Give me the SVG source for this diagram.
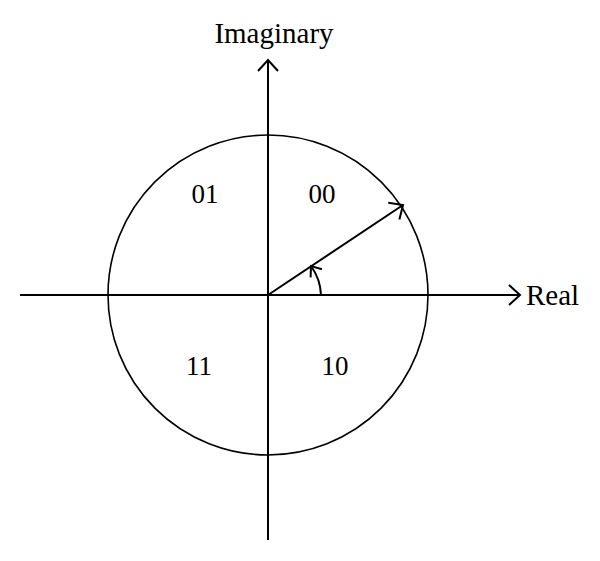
<svg xmlns="http://www.w3.org/2000/svg" width="600" height="561" viewBox="0 0 600 561">
<style>
.ln{stroke:#000;stroke-width:2;fill:none}
.cl{stroke:#000;stroke-width:1.6;fill:none}
.t{font-family:"Liberation Serif","Times New Roman",serif;fill:#000}
.ax{font-size:29px}
.q{font-size:27px;text-anchor:middle}
</style>
<defs>
<marker id="ah" markerUnits="userSpaceOnUse" markerWidth="30" markerHeight="30" viewBox="-15 -15 30 30" refX="0" refY="0" orient="auto">
<path d="M-11,-10 L0,0 L-11,10" fill="none" stroke="#000" stroke-width="2"/>
</marker>
<marker id="ahs" markerUnits="userSpaceOnUse" markerWidth="30" markerHeight="30" viewBox="-15 -15 30 30" refX="0" refY="0" orient="auto">
<path d="M-9,-7 L0,0 L-9,7" fill="none" stroke="#000" stroke-width="2"/>
</marker>
</defs>
<g id="circle"><circle class="cl" cx="268" cy="295" r="160"/></g>
<g id="connectors">
<line class="ln" x1="20" y1="295" x2="520" y2="295" marker-end="url(#ah)"/>
<line class="ln" x1="268" y1="540" x2="268" y2="60" marker-end="url(#ah)"/>
<line class="ln" x1="268" y1="295" x2="403" y2="205" marker-end="url(#ah)"/>
<path class="ln" d="M321,295 A53,53 0 0 0 311,266" marker-end="url(#ahs)"/>
</g>
<g id="label-imag"><text class="t ax" x="274" y="43" text-anchor="middle">Imaginary</text></g>
<g id="label-real"><text class="t ax" x="526" y="305">Real</text></g>
<g id="q01"><text class="t q" x="205" y="203">01</text></g>
<g id="q00"><text class="t q" x="322" y="203">00</text></g>
<g id="q11"><text class="t q" x="199" y="375">11</text></g>
<g id="q10"><text class="t q" x="335" y="375">10</text></g>
</svg>
